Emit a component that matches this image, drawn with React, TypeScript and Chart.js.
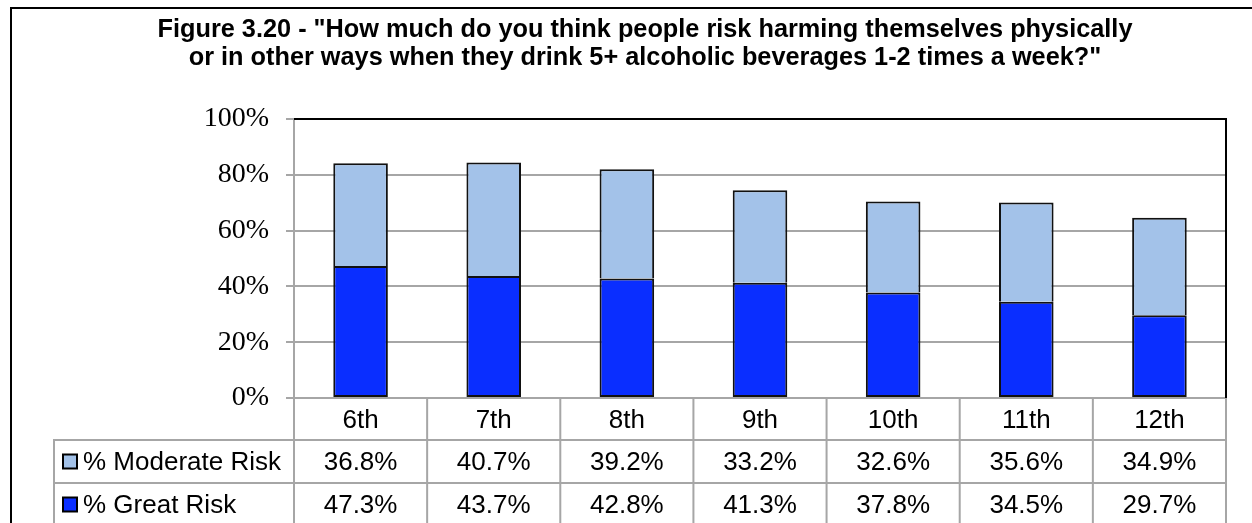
import React, { useEffect, useRef } from "react";
import { Chart, registerables } from "chart.js";

Chart.register(...registerables);

// Survey results by grade
const grades = ["6th", "7th", "8th", "9th", "10th", "11th", "12th"];
const moderateRisk = [36.8, 40.7, 39.2, 33.2, 32.6, 35.6, 34.9];
const greatRisk = [47.3, 43.7, 42.8, 41.3, 37.8, 34.5, 29.7];
const seriesNames = ["% Moderate Risk", "% Great Risk"];
const titleLines = [
  'Figure 3.20 - "How much do you think people risk harming themselves physically',
  'or in other ways when they drink 5+ alcoholic beverages 1-2 times a week?"',
];

const LIGHT = "#a3c2e9";
const BLUE = "#0a2eff";
const GRID = "#a6a6a6";
const SANS = '"Liberation Sans", Arial, sans-serif';
const SERIF = '"Liberation Serif", "Times New Roman", serif';

const ROW_H = 43;
const HEADER_H = 42;

const framePlugin = {
  id: "frame",
  beforeDraw(chart: Chart) {
    const { ctx, width, height } = chart;
    ctx.save();
    ctx.fillStyle = "#ffffff";
    ctx.fillRect(0, 0, width, height);
    ctx.restore();
  },
  afterDraw(chart: Chart) {
    const { ctx, chartArea } = chart;
    ctx.save();
    // outer chart frame
    ctx.strokeStyle = "#000";
    ctx.lineWidth = 2;
    ctx.strokeRect(11, 8, 1300, 600);

    // title
    ctx.fillStyle = "#000";
    ctx.font = `bold 25.3px ${SANS}`;
    ctx.textAlign = "center";
    ctx.textBaseline = "alphabetic";
    const cx = 645;
    ctx.fillText(titleLines[0], cx, 37);
    ctx.fillText(titleLines[1], cx, 65);

    // plot area border (top and right)
    ctx.strokeStyle = "#000";
    ctx.lineWidth = 2;
    ctx.beginPath();
    ctx.moveTo(chartArea.left, chartArea.top);
    ctx.lineTo(chartArea.right, chartArea.top);
    ctx.lineTo(chartArea.right, chartArea.bottom);
    ctx.stroke();
    ctx.restore();
  },
};

const tablePlugin = {
  id: "dataTable",
  afterDraw(chart: Chart) {
    const { ctx, chartArea } = chart;
    const xs = chart.scales.x;
    const n = grades.length;
    const top = chartArea.bottom;
    const r1 = top + HEADER_H;
    const r2 = r1 + ROW_H;
    const r3 = r2 + ROW_H;
    const tableLeft = 54;
    ctx.save();
    ctx.strokeStyle = GRID;
    ctx.lineWidth = 2;
    ctx.beginPath();
    // horizontal rules
    [r1, r2, r3].forEach((y) => {
      ctx.moveTo(tableLeft, y);
      ctx.lineTo(chartArea.right + 1, y);
    });
    // vertical rules at category boundaries
    for (let i = 0; i <= n; i++) {
      const x = xs.getPixelForValue(i - 0.5);
      ctx.moveTo(x, top);
      ctx.lineTo(x, r3);
    }
    ctx.moveTo(tableLeft, r1 - 1);
    ctx.lineTo(tableLeft, r3);
    ctx.stroke();

    // legend keys, series names and values
    const rows = [
      { y: (r1 + r2) / 2, color: LIGHT, values: moderateRisk },
      { y: (r2 + r3) / 2, color: BLUE, values: greatRisk },
    ];
    ctx.font = `26px ${SANS}`;
    ctx.textBaseline = "middle";
    rows.forEach((row, k) => {
      ctx.fillStyle = row.color;
      ctx.fillRect(63, row.y - 7, 14, 14);
      ctx.strokeStyle = "#000";
      ctx.lineWidth = 2;
      ctx.strokeRect(63, row.y - 7, 14, 14);
      ctx.fillStyle = "#000";
      ctx.textAlign = "left";
      ctx.fillText(seriesNames[k], 83, row.y + 1);
      ctx.textAlign = "center";
      row.values.forEach((v, i) => {
        ctx.fillText(v.toFixed(1) + "%", xs.getPixelForValue(i), row.y + 1);
      });
    });
    ctx.restore();
  },
};

export default function App() {
  const ref = useRef<HTMLCanvasElement>(null);

  useEffect(() => {
    const canvas = ref.current!;
    const chart = new Chart(canvas, {
      type: "bar",
      data: {
        labels: grades,
        datasets: [
          {
            label: seriesNames[1],
            data: greatRisk,
            backgroundColor: BLUE,
            borderColor: "#111",
            borderWidth: 2,
            borderSkipped: false,
            barPercentage: 0.41,
            categoryPercentage: 1,
          },
          {
            label: seriesNames[0],
            data: moderateRisk,
            backgroundColor: LIGHT,
            borderColor: "#111",
            borderWidth: 2,
            borderSkipped: "bottom",
            barPercentage: 0.41,
            categoryPercentage: 1,
          },
        ],
      },
      options: {
        responsive: false,
        animation: false,
        devicePixelRatio: 1,
        layout: { padding: { top: 119, right: 26, bottom: 0, left: 0 } },
        plugins: {
          legend: { display: false },
          tooltip: { enabled: false },
          title: { display: false },
        },
        scales: {
          x: {
            stacked: true,
            afterFit: (s: any) => {
              s.height = 125;
            },
            grid: { display: false, drawTicks: false },
            border: { display: true, color: GRID, width: 2 },
            ticks: {
              color: "#000",
              font: { family: SANS, size: 26 },
              padding: 7,
            },
          },
          y: {
            stacked: true,
            min: 0,
            max: 100,
            afterFit: (s: any) => {
              s.width = 294;
            },
            grid: {
              color: GRID,
              lineWidth: 2,
              tickLength: 8,
              tickColor: GRID,
            },
            border: { display: true, color: GRID, width: 2 },
            ticks: {
              stepSize: 20,
              color: "#000",
              font: { family: SERIF, size: 28 },
              padding: 17,
              callback: (v: any) => `${v}%`,
            },
          },
        },
      },
      plugins: [framePlugin, tablePlugin],
    });
    return () => chart.destroy();
  }, []);

  return (
    <canvas
      ref={ref}
      width={1252}
      height={523}
      style={{ position: "fixed", left: 0, top: 0, width: 1252, height: 523 }}
    />
  );
}
